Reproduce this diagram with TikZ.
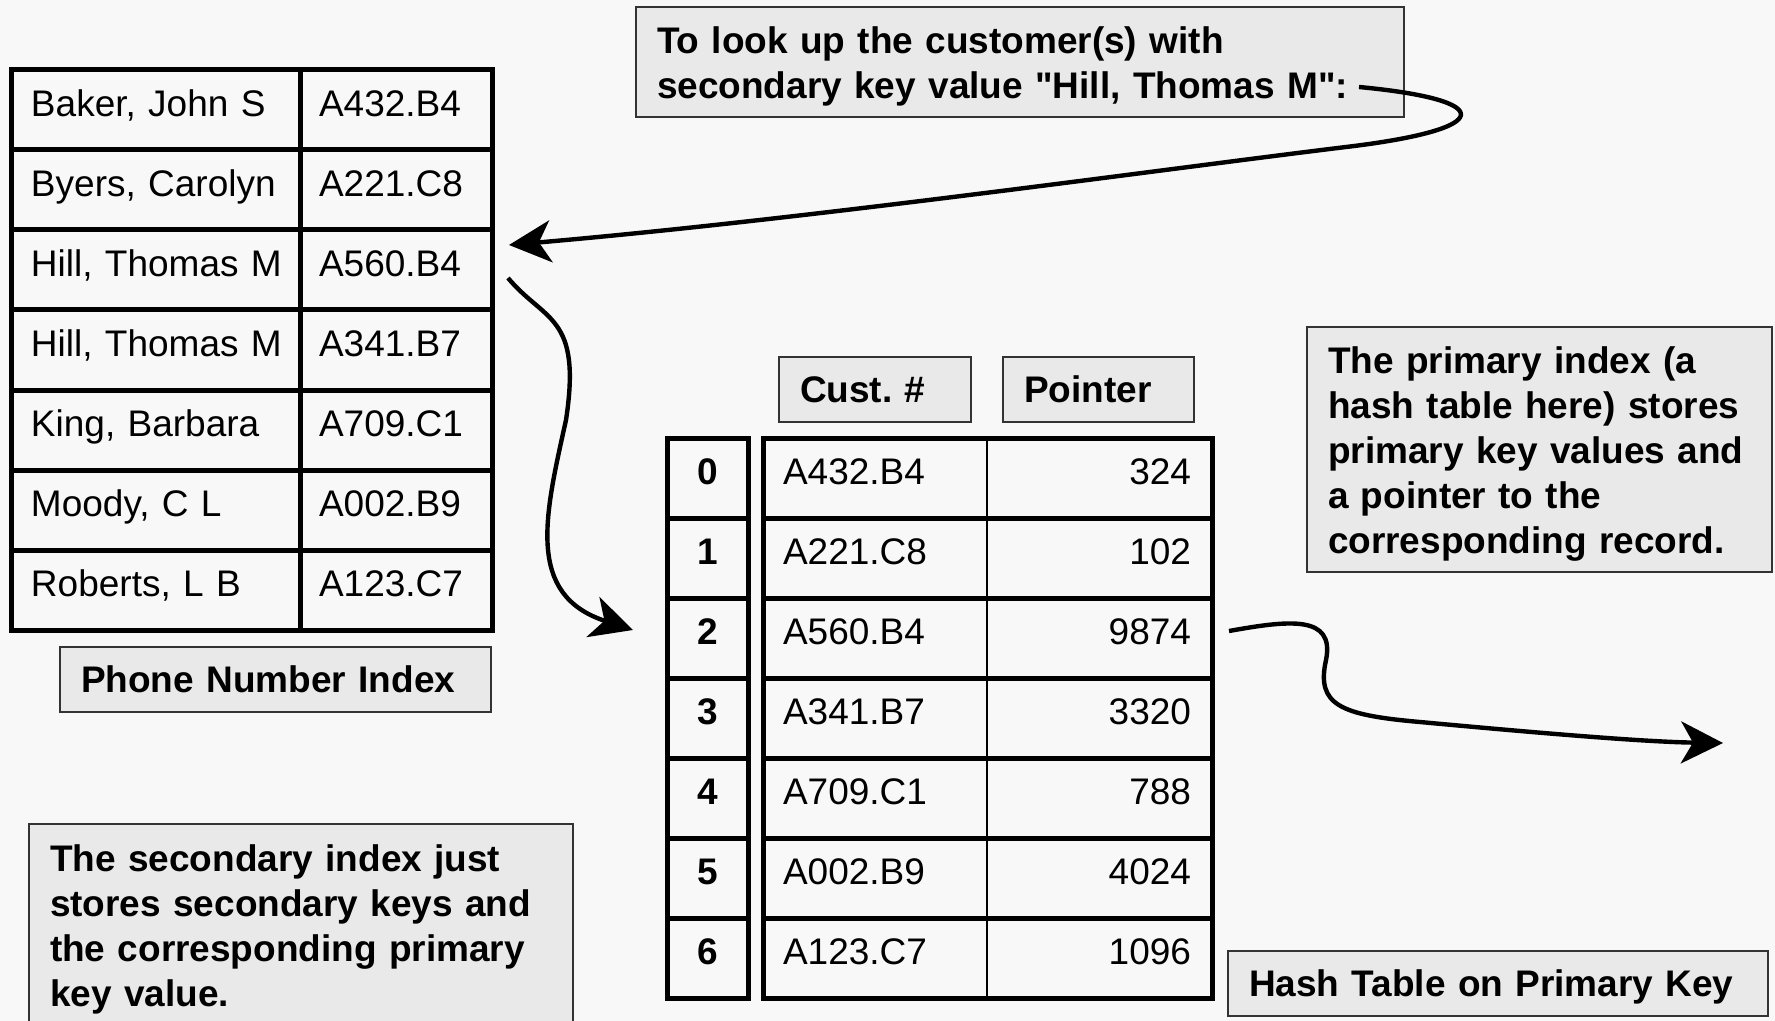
\documentclass[tikz,border=0pt]{standalone}
\usepackage{fontspec}
\setmainfont{Liberation Sans}[Ligatures=TeXOff]
\usepackage{xcolor}
\definecolor{pagebg}{HTML}{F8F8F8}
\definecolor{tagfill}{HTML}{E9E9E9}
\definecolor{tagline}{HTML}{333333}
\usetikzlibrary{positioning,arrows.meta}

\begin{document}
\begin{tikzpicture}[x=0.5pt,y=-0.5pt,node distance=0pt,
    cell/.style={rectangle,draw,line width=2.5pt,outer sep=0pt,
                 minimum height=40pt,text height=13.5pt,text depth=7pt,
                 align=left,font=\fontsize{18.5pt}{22.5pt}\selectfont},
    namecell/.style={cell,text width=124.5pt,inner xsep=10pt},
    keycell/.style={cell,text width=77pt,inner xsep=9.5pt},
    idxcell/.style={cell,minimum width=40.5pt,inner xsep=0pt,align=center,
                    font=\fontsize{18.5pt}{22.5pt}\selectfont\bfseries},
    hkey/.style={cell,draw=none,text width=92pt,inner xsep=10pt},
    hptr/.style={cell,draw=none,text width=91.5pt,inner xsep=10.5pt,align=right},
    tag/.style={rectangle,draw=tagline,fill=tagfill,line width=1pt,
                inner xsep=10.5pt,minimum height=32.5pt,align=left,
                font=\fontsize{18.5pt}{22.5pt}\selectfont\bfseries},
    note/.style={tag,text height=17.5pt},
    tabline/.style={line width=2.5pt},
    link/.style={-{Stealth[length=21pt,width=21pt,inset=6pt]},line width=2.2pt}]
    \path[fill=pagebg,use as bounding box] (0,0) rectangle (1775,1021);

    % secondary index
    \node[namecell] (n1) at (155.5,110) {Baker, John S};
    \node[keycell,right=of n1] (k1) {A432.B4};
    \node[namecell,below=of n1] (n2) {Byers, Carolyn};
    \node[keycell,right=of n2] (k2) {A221.C8};
    \node[namecell,below=of n2] (n3) {\mbox{Hill, Thomas M}};
    \node[keycell,right=of n3] (k3) {A560.B4};
    \node[namecell,below=of n3] (n4) {\mbox{Hill, Thomas M}};
    \node[keycell,right=of n4] (k4) {A341.B7};
    \node[namecell,below=of n4] (n5) {King, Barbara};
    \node[keycell,right=of n5] (k5) {A709.C1};
    \node[namecell,below=of n5] (n6) {Moody, C L};
    \node[keycell,right=of n6] (k6) {A002.B9};
    \node[namecell,below=of n6] (n7) {Roberts, L B};
    \node[keycell,right=of n7] (k7) {A123.C7};
    \node[tag,text width=194.5pt] (phone) at (275.5,679.5) {Phone Number Index};

    % hash table
    \node[tag,text width=75pt] (cust) at (875,389.5) {Cust.\ \#};
    \node[tag,text width=74.5pt] (ptr) at (1098.5,389) {Pointer};
    \node[idxcell] (i0) at (707.5,478) {0};
    \node[hkey,right=7.5pt of i0] (hk0) {A432.B4};
    \node[hptr,right=of hk0] (hp0) {324};
    \node[idxcell,below=of i0] (i1) {1};
    \node[hkey,right=7.5pt of i1] (hk1) {A221.C8};
    \node[hptr,right=of hk1] (hp1) {102};
    \node[idxcell,below=of i1] (i2) {2};
    \node[hkey,right=7.5pt of i2] (hk2) {A560.B4};
    \node[hptr,right=of hk2] (hp2) {9874};
    \node[idxcell,below=of i2] (i3) {3};
    \node[hkey,right=7.5pt of i3] (hk3) {A341.B7};
    \node[hptr,right=of hk3] (hp3) {3320};
    \node[idxcell,below=of i3] (i4) {4};
    \node[hkey,right=7.5pt of i4] (hk4) {A709.C1};
    \node[hptr,right=of hk4] (hp4) {788};
    \node[idxcell,below=of i4] (i5) {5};
    \node[hkey,right=7.5pt of i5] (hk5) {A002.B9};
    \node[hptr,right=of hk5] (hp5) {4024};
    \node[idxcell,below=of i5] (i6) {6};
    \node[hkey,right=7.5pt of i6] (hk6) {A123.C7};
    \node[hptr,right=of hk6] (hp6) {1096};
    \draw[tabline] (hk0.north west) rectangle (hp6.south east);
    \draw[tabline] (hk0.south west) -- (hp0.south east) (hk1.south west) -- (hp1.south east)
                   (hk2.south west) -- (hp2.south east) (hk3.south west) -- (hp3.south east)
                   (hk4.south west) -- (hp4.south east) (hk5.south west) -- (hp5.south east);
    \draw[line width=0.8pt] (hk0.north east) -- (hk6.south east);
    \node[note,text width=249pt] (hashtag) at (1498,983) {Hash Table on Primary Key};

    % notes
    \node[note,text width=363pt,minimum height=55pt] (lookup) at (1020,62)
      {To look up the customer(s) with\\secondary key value "Hill, Thomas M":};
    \node[note,text width=211.5pt,minimum height=122.5pt] (primary) at (1539.5,449.5)
      {The primary index (a\\hash table here) stores\\primary key values and\\a pointer to the\\corresponding record.};
    \node[tag,text width=251pt,inner ysep=10.5pt,anchor=north west] (secondary) at (28,823)
      {The secondary index just\\stores secondary keys and\\the corresponding primary\\key value.};

    % lookup path
    \coordinate (askend) at ([xshift=-23pt,yshift=-12.5pt]lookup.east);
    \coordinate (hitrow) at ([xshift=8.5pt,yshift=12.5pt]k3.east);
    \coordinate (hitout) at ([xshift=8pt,yshift=-4pt]k3.east);
    \coordinate (slot) at ([xshift=-17pt,yshift=4pt]i2.west);
    \coordinate (ptrout) at ([xshift=8.5pt,yshift=3.5pt]hp2.east);
    \coordinate (record) at (1723,743);
    \draw[link] (askend) .. controls (1497,100) and (1497,129) .. (1346,147)
                .. controls (1165,169) and (809,219) .. (hitrow);
    \draw[link] (hitout) .. controls (545,322) and (582,315) .. (566,420)
                .. controls (545,515) and (525,595) .. (slot);
    \draw[link] (ptrout) .. controls (1290,620) and (1335,615) .. (1326,660)
                .. controls (1316,705) and (1340,715) .. (1420,722)
                .. controls (1560,735) and (1650,742) .. (record);
\end{tikzpicture}
\end{document}
